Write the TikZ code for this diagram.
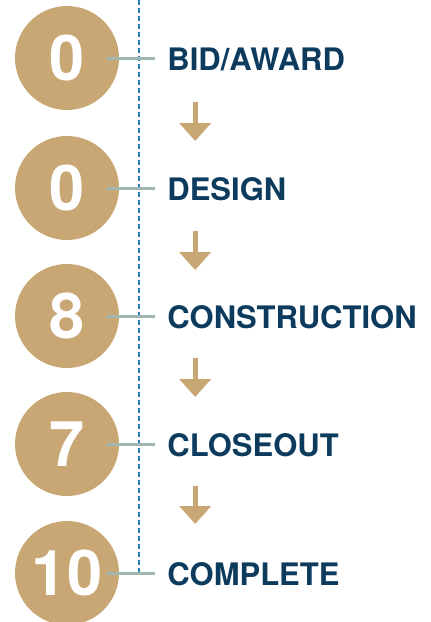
\documentclass[tikz,border=0pt]{standalone}
\usepackage{fontspec}
\setmainfont{TeX Gyre Heros}
\usetikzlibrary{positioning,calc,arrows.meta}

\definecolor{tan}{HTML}{C9A774}
\definecolor{navy}{HTML}{0D3B5E}
\definecolor{sage}{HTML}{9FB7B0}
\definecolor{guideblue}{HTML}{2B7DB5}

\tikzset{
  phase/.style={circle,fill=tan,minimum size=104pt,inner sep=0pt,text=white,
    font=\bfseries\fontsize{63}{63}\selectfont},
  stage/.style={inner xsep=12pt,inner ysep=0pt,text height=26pt,text=navy,anchor=west,
    font=\bfseries\fontsize{31}{34}\selectfont},
  link/.style={draw=sage,line width=3pt},
  guide/.style={draw=guideblue,line width=1.3pt,dash pattern=on 5pt off 3pt},
  flow/.style={draw=tan,line width=5pt,-{Triangle[width=31pt,length=18pt]}}
}

\begin{document}
\begin{tikzpicture}[x=1pt,y=-1pt]
    \useasboundingbox (0,0) rectangle (431,622);
    \node[phase] (n1) at (67,58) {0};
    \node[phase] (n2) at (67,188) {0};
    \node[phase] (n3) at (67,316) {8};
    \node[phase] (n4) at (67,444) {7};
    \node[phase] (n5) at (67,573) {10};
    \coordinate (top) at (139,0);
    \draw[guide] (top) -- (top |- n5);
    \node[stage] (l1) [right=36pt of n1] {BID/AWARD};
    \node[stage] (l2) [right=36pt of n2] {DESIGN};
    \node[stage] (l3) [right=36pt of n3] {CONSTRUCTION};
    \node[stage] (l4) [right=36pt of n4] {CLOSEOUT};
    \node[stage] (l5) [right=36pt of n5] {COMPLETE};
    \draw[link] (n1.east) ++(-12,0) -- (l1.west);
    \draw[link] (n2.east) ++(-12,0) -- (l2.west);
    \draw[link] (n3.east) ++(-12,0) -- (l3.west);
    \draw[link] (n4.east) ++(-12,0) -- (l4.west);
    \draw[link] (n5.east) ++(-12,0) -- (l5.west);
    \draw[flow] ($(l1.west)+(40,44)$) -- ++(0,39);
    \draw[flow] ($(l2.west)+(40,43)$) -- ++(0,39);
    \draw[flow] ($(l3.west)+(40,42)$) -- ++(0,39);
    \draw[flow] ($(l4.west)+(40,42)$) -- ++(0,38);
\end{tikzpicture}
\end{document}
